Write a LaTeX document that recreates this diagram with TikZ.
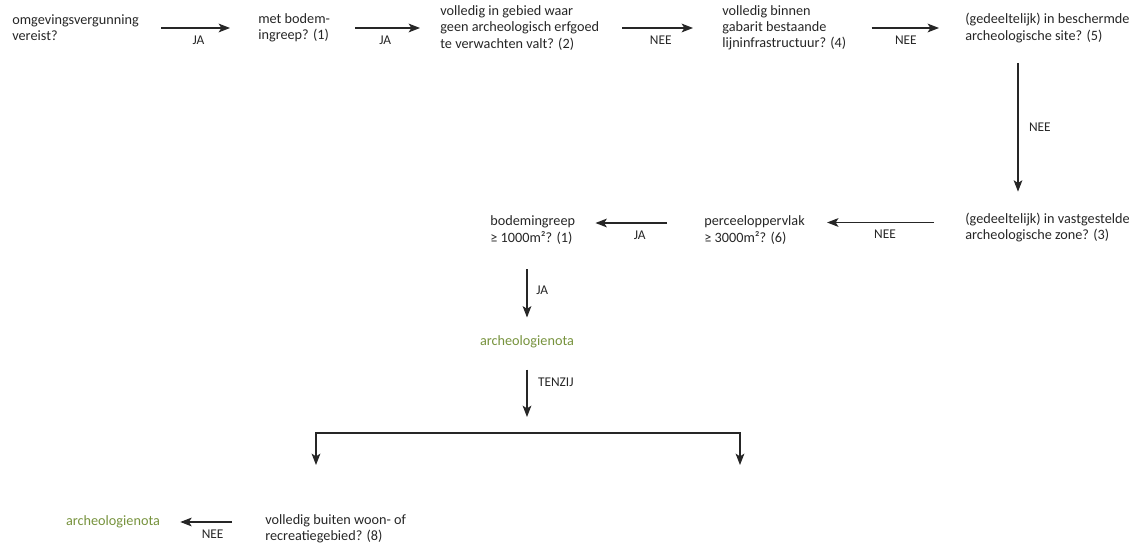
\documentclass[tikz,border=0pt]{standalone}
\usepackage{fontspec}
\setmainfont{Carlito}
\usetikzlibrary{arrows.meta,positioning}
\definecolor{notagreen}{RGB}{118,146,60}
\tikzset{question/.style={anchor=west, align=left, inner sep=0pt, text=black!85, font=\fontsize{8.1}{9.2}\selectfont},
  result/.style={inner sep=0pt, text=notagreen, font=\fontsize{8.1}{9.2}\selectfont},
  answer/.style={inner sep=1pt, text=black!85, font=\fontsize{7.6}{8.5}\selectfont},
  link/.style={->, line width=0.6pt, draw=black!85},
  >={Stealth[length=6.5pt,width=5pt,inset=1.6pt]}}

\begin{document}
\begin{tikzpicture}
    \useasboundingbox (0,0) rectangle (22.82,-10.94);
    \node[question] (N1) at (0.24,-0.56) {omgevingsvergunning\\vereist?};
    \node[question] (N2) at (5.16,-0.56) {met bodem-\\ingreep? (1)};
    \node[question] (N3) at (8.80,-0.56) {volledig in gebied waar\\geen archeologisch erfgoed\\te verwachten valt? (2)};
    \node[question] (N4) at (14.44,-0.56) {volledig binnen\\gabarit bestaande\\lijninfrastructuur? (4)};
    \node[question] (N5) at (19.30,-0.56) {(gedeeltelijk) in beschermde\\archeologische site? (5)};
    \node[question] (N6) at (19.30,-4.55) {(gedeeltelijk) in vastgestelde\\archeologische zone? (3)};
    \node[question] (N7) at (14.08,-4.60) {perceeloppervlak\\≥ 3000m²? (6)};
    \node[question] (N8) at (9.80,-4.60) {bodemingreep\\≥ 1000m²? (1)};
    \node[result] (G1) at (10.54,-6.84) {archeologienota};
    \node[question] (N9) at (5.30,-10.58) {volledig buiten woon- of\\recreatiegebied? (8)};
    \node[result] (G2) at (2.26,-10.44) {archeologienota};
    \coordinate (T) at (10.54,-8.34);
    \coordinate (BM) at (10.54,-8.66);
    \coordinate (BL) at (6.32,-9.30);
    \coordinate (BR) at (14.80,-9.30);

    \draw[link, shorten <=0.44cm, shorten >=0.56cm] (N1.east) -- (N2.west) node[answer, midway, below=3pt] {JA};
    \draw[link, shorten <=0.50cm, shorten >=0.40cm] (N2.east) -- (N3.west) node[answer, midway, below=3pt] {JA};
    \draw[link, shorten <=0.46cm, shorten >=0.58cm] (N3.east) -- (N4.west) node[answer, midway, below=3pt] {NEE};
    \draw[link, shorten <=0.50cm, shorten >=0.52cm] (N4.east) -- (N5.west) node[answer, midway, below=3pt] {NEE};
    \draw[link] ([xshift=1.06cm,yshift=-0.40cm]N5.south west) -- ([xshift=1.06cm,yshift=0.42cm]N6.north west) node[answer, midway, right=5pt] {NEE};
    \draw[link, shorten <=0.62cm, shorten >=0.44cm] ([yshift=1mm]N6.west) -- ([yshift=1mm]N6.west -| N7.east) node[answer, midway, below=3pt] {NEE};
    \draw[link, shorten <=0.74cm, shorten >=0.40cm] ([yshift=1.4mm]N7.west) -- ([yshift=1.4mm]N7.west -| N8.east) node[answer, midway, below=3pt] {JA};
    \draw[link, shorten <=0.50cm, shorten >=0.36cm] (G1 |- N8.south) -- (G1.north) node[answer, midway, right=4pt] {JA};
    \draw[link, shorten <=0.42cm] (G1.south) -- (T) node[answer, midway, right=5pt] {TENZIJ};
    \draw[link, <->] (BL) |- (BM) -| (BR);
    \draw[link, shorten <=0.66cm, shorten >=0.40cm] (N9.west |- G2) -- (G2.east) node[answer, midway, below=3pt] {NEE};
\end{tikzpicture}
\end{document}
